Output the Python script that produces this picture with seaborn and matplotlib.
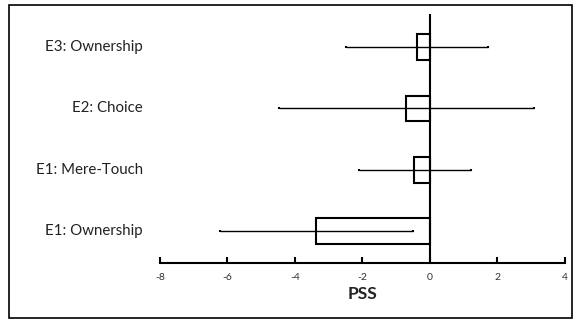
#!/usr/bin/env python3
"""
Recreate the PSS bar chart with asymmetric confidence intervals
"""

import numpy as np
import pandas as pd
import matplotlib
matplotlib.use("Agg")
import matplotlib.pyplot as plt
import seaborn as sns
from matplotlib.patches import Rectangle

# Data (top to bottom, as shown)
conditions = ["E3: Ownership", "E2: Choice", "E1: Mere-Touch", "E1: Ownership"]
pss_mean = [-0.39, -0.70, -0.47, -3.38]
ci_low = [-2.49, -4.48, -2.11, -6.21]
ci_high = [1.71, 3.09, 1.22, -0.51]
x_ticks = [-8, -6, -4, -2, 0, 2, 4]

sns.set_theme(style="white")
plt.rcParams['font.family'] = ['Lato', 'DejaVu Sans']

df = pd.DataFrame({"Condition": conditions, "PSS": pss_mean})

fig = plt.figure(figsize=(5.78, 3.2), dpi=100)
ax = fig.add_axes([0.2768, 0.177, 0.7007, 0.776])

sns.barplot(data=df, x="PSS", y="Condition", orient="h", order=conditions,
            color="white", edgecolor="black", linewidth=1.5, width=0.42,
            errorbar=None, ax=ax)

# Asymmetric error bars
means = np.array(pss_mean)
xerr = np.vstack([means - np.array(ci_low), np.array(ci_high) - means])
ax.errorbar(means, np.arange(len(conditions)), xerr=xerr, fmt="none",
            ecolor="black", elinewidth=1.0, capsize=1, capthick=1.5, zorder=3)

# Axes: x axis at bottom, y axis through zero
ax.set_xlim(-8, 4)
ax.set_ylim(3.52, -0.52)
ax.set_xticks(x_ticks)
ax.set_xticklabels([str(t) for t in x_ticks], fontsize=7.5, color="#333333")
ax.spines['top'].set_visible(False)
ax.spines['right'].set_visible(False)
ax.spines['left'].set_position(('data', 0))
ax.spines['left'].set_linewidth(1.5)
ax.spines['bottom'].set_linewidth(1.5)
ax.spines['left'].set_color("black")
ax.spines['bottom'].set_color("black")
ax.tick_params(axis='x', bottom=True, direction='in', length=4, width=1.5,
               color="black", pad=7)
ax.tick_params(axis='y', length=0)
ax.set_yticks([])

# Category labels on the left, right-aligned away from the spine
for i, name in enumerate(conditions):
    ax.text(-8.5, i, name, ha="right", va="center", fontsize=10.8, color="#222222")

ax.set_ylabel("")
ax.set_xlabel("PSS", fontsize=12.5, fontweight="bold", labelpad=3, color="#222222")

# Chart border
fig.patches.append(Rectangle((0.015, 0.005), 0.975, 0.978, transform=fig.transFigure,
                             fill=False, edgecolor="black", linewidth=1.2))

fig.savefig("out.png", dpi=100)
plt.close(fig)
